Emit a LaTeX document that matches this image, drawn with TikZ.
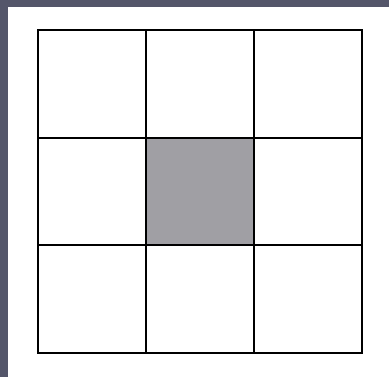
\documentclass[tikz,border=0pt]{standalone}
\usepackage{tikz}
\definecolor{grid-band}{RGB}{84,86,106}
\definecolor{grid-fill}{RGB}{160,159,164}

\begin{document}
\begin{tikzpicture}[x=1pt,y=-1pt]
    \useasboundingbox (0,0) rectangle (389,377);
    \fill[grid-band] (0,0) rectangle (389,377);
    \fill[white] (8,7) rectangle (389,377);

    \fill[grid-fill] (146,138) rectangle (254,245);

    \draw[line width=1.6pt] (38,30) rectangle (362,353);
    \draw[line width=1.6pt] (146,30) -- (146,353);
    \draw[line width=1.6pt] (254,30) -- (254,353);
    \draw[line width=1.6pt] (38,138) -- (362,138);
    \draw[line width=1.6pt] (38,245) -- (362,245);
\end{tikzpicture}
\end{document}
